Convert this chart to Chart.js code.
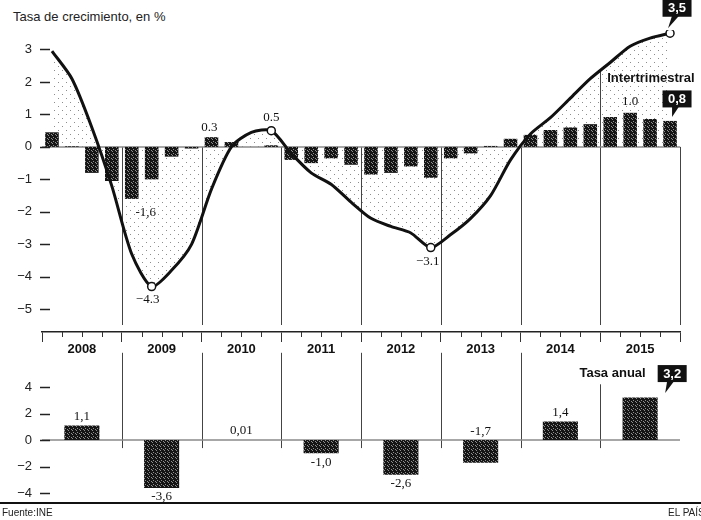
<!DOCTYPE html>
<html>
<head>
<meta charset="utf-8">
<title>Tasa de crecimiento</title>
<script src="https://cdn.jsdelivr.net/npm/chart.js"></script>
<style>
  body { margin: 0; width: 701px; height: 520px; background: #fff; position: relative; overflow: hidden;
         font-family: 'Liberation Sans', Arial, sans-serif; color: #222; }
  #top-chart { position: absolute; left: 0; top: 0; }
  #annual-chart { position: absolute; left: 0; top: 335px; }
  .title { position: absolute; left: 13px; top: 9px; font-size: 13px; }
  .rule { position: absolute; left: 0; top: 502px; width: 701px; height: 2px; background: #111; }
  .source { position: absolute; left: 2px; top: 507px; font-size: 10px; }
  .brand { position: absolute; left: 668px; top: 507px; font-size: 10px; white-space: nowrap; }
</style>
</head>
<body>
<div class="title">Tasa de crecimiento, en %</div>
<canvas id="top-chart" width="701" height="360"></canvas>
<canvas id="annual-chart" width="701" height="184"></canvas>
<div class="rule"></div>
<div class="source">Fuente:INE</div>
<div class="brand">EL PAÍS</div>
<script>
var years = ['2008', '2009', '2010', '2011', '2012', '2013', '2014', '2015'];
var quarters = years.flatMap(function (y) {
  return ['I', 'II', 'III', 'IV'].map(function (q) { return q + ' ' + y; });
});

// intertrimestral (bars) and interanual (line), % per quarter
var quarterly = [0.45, 0.02, -0.8, -1.05, -1.6, -1.0, -0.3, -0.05,
                 0.3, 0.15, 0.0, 0.05, -0.4, -0.5, -0.35, -0.55,
                 -0.85, -0.8, -0.6, -0.95, -0.35, -0.2, 0.03, 0.25,
                 0.37, 0.52, 0.6, 0.7, 0.92, 1.05, 0.86, 0.8];
var yearOnYear = [2.95, 2.1, 0.6, -1.2, -3.3, -4.3, -3.8, -3.0,
                  -1.3, 0.0, 0.45, 0.5, -0.2, -0.8, -1.15, -1.7,
                  -2.2, -2.45, -2.65, -3.1, -2.7, -2.2, -1.5, -0.4,
                  0.4, 0.9, 1.5, 2.1, 2.6, 3.1, 3.35, 3.5];
var annual = [1.1, -3.6, 0.01, -1.0, -2.6, -1.7, 1.4, 3.2];
var annualLabels = ['1,1', '-3,6', '0,01', '-1,0', '-2,6', '-1,7', '1,4', null];

var topTicks = [3, 2, 1, 0, -1, -2, -3, -4, -5];
var annualTicks = [4, 2, 0, -2, -4];

var circled = [5, 11, 19, 31];
var barNotes = [
  { index: 4, text: '-1,6', dx: 14, dy: 14 },
  { index: 8, text: '0.3', dx: -2, dy: -10 },
  { index: 29, text: '1.0', dx: 0, dy: -11 }
];
var lineNotes = [
  { index: 5, text: '\u22124.3', dx: -4, dy: 13 },
  { index: 11, text: '0.5', dx: 0, dy: -13 },
  { index: 19, text: '\u22123.1', dx: -3, dy: 14 }
];
var annualSide = ['top', 'bottom', 'top', 'bottom', 'bottom', 'top', 'top', null];

var SANS = '"Liberation Sans", Arial, sans-serif';
var SERIF = '"Liberation Serif", "Times New Roman", serif';
Chart.defaults.font.family = SANS;
Chart.defaults.color = '#222';

function makeTile(ctx, size, bg, dots, dotColor) {
  var c = document.createElement('canvas');
  c.width = size; c.height = size;
  var t = c.getContext('2d');
  if (bg) { t.fillStyle = bg; t.fillRect(0, 0, size, size); }
  t.fillStyle = dotColor;
  dots.forEach(function (d) { t.fillRect(d[0], d[1], 1, 1); });
  return ctx.createPattern(c, 'repeat');
}

function fmtTick(v) { return v < 0 ? '\u2212' + Math.abs(v) : String(v); }

function dashTicks(chart) {
  var y = chart.scales.y, ctx = chart.ctx, left = chart.chartArea.left;
  ctx.save();
  ctx.strokeStyle = '#222';
  ctx.lineWidth = 1.5;
  y.ticks.forEach(function (t, i) {
    var py = Math.round(y.getPixelForTick(i)) + 0.5;
    ctx.beginPath(); ctx.moveTo(left - 2, py); ctx.lineTo(left + 8, py); ctx.stroke();
  });
  ctx.restore();
}

function text(ctx, s, x, y, font, color) {
  ctx.font = font;
  ctx.fillStyle = color || '#111';
  ctx.textAlign = 'center';
  ctx.textBaseline = 'middle';
  ctx.fillText(s, x, y);
}

function calloutBox(ctx, s, ax, ay, o) {
  var cx = ax + o.dx, cy = ay + o.dy, w = 29, h = 17;
  ctx.fillStyle = '#111';
  ctx.fillRect(cx - w / 2, cy - h / 2, w, h);
  ctx.beginPath();
  ctx.moveTo(cx - 5, cy + h / 2 - 1);
  ctx.lineTo(cx + 2, cy + h / 2 - 1);
  ctx.lineTo(ax + o.tx, ay + o.ty);
  ctx.closePath();
  ctx.fill();
  text(ctx, s, cx, cy + 0.5, 'bold 13px ' + SANS, '#fff');
}

function yearEdges(scale) {
  var w = scale.getPixelForValue(1) - scale.getPixelForValue(0);
  return years.map(function (y, i) { return scale.getPixelForValue(i) - w / 2; })
    .concat([scale.getPixelForValue(years.length - 1) + w / 2]);
}

var topDecor = {
  id: 'topDecor',
  beforeDatasetsDraw: function (chart) {
    var ctx = chart.ctx, area = chart.chartArea, y = chart.scales.y;
    var zero = y.getPixelForValue(0);
    var line = chart.getDatasetMeta(0).data;
    var edges = yearEdges(chart.scales.years);
    ctx.save();
    ctx.strokeStyle = '#444';
    ctx.lineWidth = 1;
    edges.forEach(function (x, i) {
      if (i === 0) return;
      var top = zero;
      if (i === 7) top = (line[27].y + line[28].y) / 2;
      ctx.beginPath();
      ctx.moveTo(Math.round(x) + 0.5, top);
      ctx.lineTo(Math.round(x) + 0.5, area.bottom - 7);
      ctx.stroke();
    });
    ctx.strokeStyle = '#8a8a8a';
    ctx.lineWidth = 1.5;
    ctx.beginPath();
    ctx.moveTo(area.left, zero); ctx.lineTo(area.right, zero);
    ctx.stroke();
    ctx.restore();
  },
  afterDraw: function (chart) {
    var ctx = chart.ctx, area = chart.chartArea, q = chart.scales.x;
    var step = q.getPixelForValue(1) - q.getPixelForValue(0);
    ctx.save();
    dashTicks(chart);
    // quarter ticks on the time axis
    ctx.strokeStyle = '#333';
    ctx.lineWidth = 1;
    for (var i = 0; i <= quarters.length; i++) {
      if (i % 4 === 0) continue;
      var x = Math.round(q.getPixelForValue(0) - step / 2 + i * step) + 0.5;
      ctx.beginPath(); ctx.moveTo(x, area.bottom); ctx.lineTo(x, area.bottom + 5); ctx.stroke();
    }
    var line = chart.getDatasetMeta(0).data;
    var bars = chart.getDatasetMeta(1).data;
    var valueFont = '13px ' + SERIF;
    barNotes.forEach(function (n) {
      var b = bars[n.index];
      text(ctx, n.text, b.x + n.dx, b.y + n.dy, valueFont);
    });
    lineNotes.forEach(function (n) {
      var p = line[n.index];
      text(ctx, n.text, p.x + n.dx, p.y + n.dy, valueFont);
    });
    var last = line[line.length - 1], lastBar = bars[bars.length - 1];
    calloutBox(ctx, '3,5', last.x, last.y, { dx: 7, dy: -25, tx: -2, ty: -5 });
    calloutBox(ctx, '0,8', lastBar.x, lastBar.y, { dx: 7, dy: -22, tx: 2, ty: -4 });
    ctx.font = 'bold 13px ' + SANS;
    ctx.fillStyle = '#111';
    ctx.textAlign = 'left';
    ctx.textBaseline = 'middle';
    var edges = yearEdges(chart.scales.years);
    ctx.fillText('Intertrimestral', edges[7] + 7, chart.scales.y.getPixelForValue(2.1));
    ctx.restore();
  }
};

var topCanvas = document.getElementById('top-chart');
var topCtx = topCanvas.getContext('2d');
var topBarFill = makeTile(topCtx, 4, '#151515', [[1, 1], [3, 2], [0, 3]], '#8f8f8f');
var stipple = makeTile(topCtx, 8, null, [[2, 2], [6, 6]], 'rgba(0,0,0,0.45)');

var topChart = new Chart(topCtx, {
  type: 'bar',
  data: {
    labels: quarters,
    datasets: [
      {
        type: 'line',
        data: yearOnYear,
        borderColor: '#111',
        borderWidth: 3,
        tension: 0.25,
        fill: 'origin',
        backgroundColor: stipple,
        pointRadius: function (c) { return circled.indexOf(c.dataIndex) >= 0 ? 4 : 0; },
        pointBackgroundColor: '#fff',
        pointBorderColor: '#111',
        pointBorderWidth: 1.5,
        order: 0
      },
      {
        type: 'bar',
        data: quarterly,
        backgroundColor: topBarFill,
        barPercentage: 0.68,
        categoryPercentage: 1,
        order: 1
      }
    ]
  },
  options: {
    responsive: false,
    animation: false,
    layout: { padding: { top: 30, right: 21, left: 0, bottom: 0 } },
    plugins: {
      legend: { display: false },
      tooltip: { enabled: false },
      filler: { drawTime: 'beforeDatasetsDraw' }
    },
    scales: {
      x: { display: false, offset: true },
      years: {
        type: 'category',
        labels: years,
        position: 'bottom',
        offset: true,
        grid: { offset: true, drawOnChartArea: false, tickLength: 10, color: '#333', lineWidth: 1 },
        border: { color: '#222', width: 1.5 },
        ticks: { font: { size: 13, weight: 'bold' }, color: '#111', padding: 0, maxRotation: 0 },
        afterFit: function (s) { s.height = 28; }
      },
      y: {
        min: -5.7,
        max: 3.6,
        afterBuildTicks: function (s) { s.ticks = topTicks.map(function (v) { return { value: v }; }); },
        grid: { display: false, drawTicks: false },
        border: { display: false },
        ticks: { padding: 10, font: { size: 13 }, color: '#222', callback: fmtTick },
        afterFit: function (s) { s.width = 42; }
      }
    }
  },
  plugins: [topDecor]
});

var annualDecor = {
  id: 'annualDecor',
  beforeDatasetsDraw: function (chart) {
    var ctx = chart.ctx, area = chart.chartArea, y = chart.scales.y;
    var zero = y.getPixelForValue(0);
    var edges = yearEdges(chart.scales.x);
    ctx.save();
    ctx.strokeStyle = '#444';
    ctx.lineWidth = 1;
    edges.forEach(function (x, i) {
      if (i === 0 || i === edges.length - 1) return;
      var top = i === 7 ? y.getPixelForValue(4.2) : area.top;
      ctx.beginPath();
      ctx.moveTo(Math.round(x) + 0.5, top);
      ctx.lineTo(Math.round(x) + 0.5, zero + 8);
      ctx.stroke();
    });
    ctx.strokeStyle = '#8a8a8a';
    ctx.lineWidth = 1.5;
    ctx.beginPath();
    ctx.moveTo(area.left, zero); ctx.lineTo(area.right, zero);
    ctx.stroke();
    ctx.restore();
  },
  afterDraw: function (chart) {
    var ctx = chart.ctx, bars = chart.getDatasetMeta(0).data;
    ctx.save();
    dashTicks(chart);
    bars.forEach(function (b, i) {
      if (!annualLabels[i]) return;
      var yy = annualSide[i] === 'top' ? Math.min(b.y, b.base) - 9 : Math.max(b.y, b.base) + 9;
      text(ctx, annualLabels[i], b.x, yy, '13px ' + SERIF);
    });
    var lastBar = bars[bars.length - 1];
    var right = lastBar.x + lastBar.width / 2;
    calloutBox(ctx, '3,2', right, lastBar.y, { dx: 14.5, dy: -24, tx: 7.5, ty: -4.5 });
    ctx.font = 'bold 13px ' + SANS;
    ctx.fillStyle = '#111';
    ctx.textAlign = 'right';
    ctx.textBaseline = 'middle';
    ctx.fillText('Tasa anual', right - 12, lastBar.y - 24);
    ctx.restore();
  }
};

var annualCanvas = document.getElementById('annual-chart');
var annualCtx = annualCanvas.getContext('2d');
var annualBarFill = makeTile(annualCtx, 4, '#151515', [[1, 1], [3, 2], [0, 3]], '#8f8f8f');

var annualChart = new Chart(annualCtx, {
  type: 'bar',
  data: {
    labels: years,
    datasets: [{
      data: annual,
      backgroundColor: annualBarFill,
      barPercentage: 0.44,
      categoryPercentage: 1
    }]
  },
  options: {
    responsive: false,
    animation: false,
    layout: { padding: { top: 0, right: 21, left: 0, bottom: 0 } },
    plugins: { legend: { display: false }, tooltip: { enabled: false } },
    scales: {
      x: { display: false, offset: true },
      y: {
        min: -4.6,
        max: 6.57,
        afterBuildTicks: function (s) { s.ticks = annualTicks.map(function (v) { return { value: v }; }); },
        grid: { display: false, drawTicks: false },
        border: { display: false },
        ticks: { padding: 10, font: { size: 13 }, color: '#222', callback: fmtTick },
        afterFit: function (s) { s.width = 42; }
      }
    }
  },
  plugins: [annualDecor]
});
</script>
</body>
</html>
